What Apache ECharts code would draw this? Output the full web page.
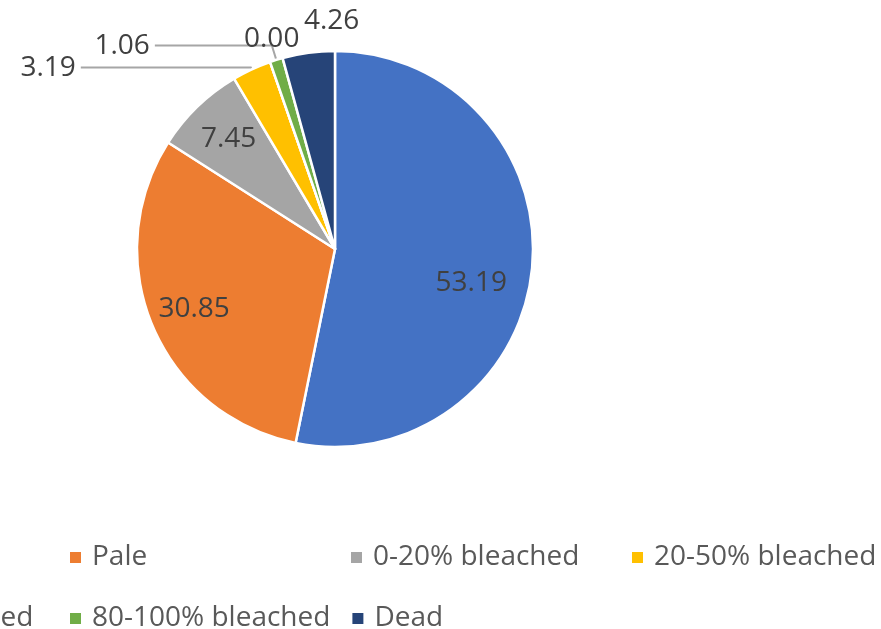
<!DOCTYPE html>
<html>
<head>
<meta charset="utf-8" />
<title>bleaching pie</title>
<script src="https://cdn.jsdelivr.net/npm/echarts@6/dist/echarts.min.js"></script>
<style>
  html, body { margin: 0; padding: 0; background: #fff; }
  #main { width: 881px; height: 629px; }
</style>
</head>
<body>
<div id="main"></div>
<script>
// data
var categories = ['Normal', 'Pale', '0-20% bleached', '20-50% bleached', '50-80% bleached', '80-100% bleached', 'Dead'];
var values = [53.19, 30.85, 7.45, 3.19, 0.00, 1.06, 4.26];
var colors = ['#4472C4', '#ED7D31', '#A5A5A5', '#FFC000', '#5B9BD5', '#70AD47', '#264478'];

var cx = 335, cy = 249, R = 198;
var font = 'Open Sans';

// small slices get outside labels with leader lines [length, length2]
var outside = { 3: [2, 170], 4: [2, 20], 5: [15, 117], 6: [2, 20] };
// extra label nudges, like Excel's hand placed labels
var nudge = { 0: [-16, 19], 4: [55, -21], 6: [76, -30] };

var pieData = categories.map(function (name, i) {
  var item = { name: name, value: values[i] };
  if (outside[i]) {
    item.label = { position: 'outside' };
    item.labelLine = { show: i === 3 || i === 5, length: outside[i][0], length2: outside[i][1] };
  } else {
    item.label = { position: 'inside' };
  }
  return item;
});

var chart = echarts.init(document.getElementById('main'));
chart.setOption({
  animation: false,
  color: colors,
  legend: {
    left: -218,
    top: 532,
    width: 1110,
    icon: 'rect',
    itemWidth: 13,
    itemHeight: 13,
    itemGap: 20,
    selectedMode: false,
    data: categories,
    textStyle: {
      fontFamily: font,
      fontSize: 28,
      color: '#595959',
      width: 237,
      lineHeight: 41,
      padding: [0, 0, 0, 5]
    }
  },
  series: [{
    type: 'pie',
    center: [cx, cy],
    radius: R,
    startAngle: 90,
    clockwise: true,
    avoidLabelOverlap: false,
    itemStyle: { borderColor: '#fff', borderWidth: 2.5 },
    label: {
      show: true,
      fontFamily: font,
      fontSize: 28,
      color: '#404040',
      distanceToLabelLine: 5,
      formatter: function (p) { return p.value.toFixed(2); }
    },
    labelLine: { lineStyle: { color: '#A6A6A6', width: 2 } },
    labelLayout: function (p) {
      var n = nudge[p.dataIndex] || [0, 0];
      if (outside[p.dataIndex]) return { dx: n[0], dy: n[1] };
      var lx = p.labelRect.x + p.labelRect.width / 2;
      var ly = p.labelRect.y + p.labelRect.height / 2;
      return { dx: (lx - cx) * 0.5 + n[0], dy: (ly - cy) * 0.5 + n[1] };
    },
    data: pieData
  }]
});
</script>
</body>
</html>
